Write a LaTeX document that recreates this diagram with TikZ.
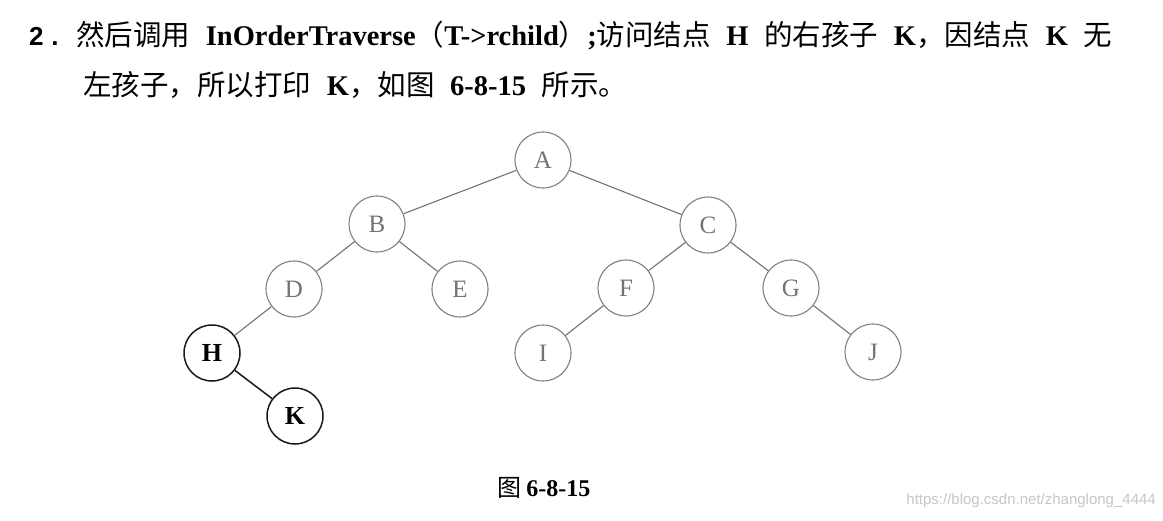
\documentclass[tikz,border=0pt]{standalone}
\usepackage{fontspec}
\setmainfont{Liberation Serif}
\newfontfamily\cjk{Noto Sans CJK SC}
\newfontfamily\wm{Liberation Sans}
\newcommand{\spA}{\hspace{0.55em}}
\newcommand{\spB}{\hspace{0.55em}}
\begin{document}
\begin{tikzpicture}[x=1pt,y=-1pt,
  txt/.style={anchor=west,inner sep=0pt,font=\fontsize{28.5}{30}\selectfont},
  tnode/.style={circle,draw=black!50,line width=1.1pt,minimum size=56pt,inner sep=0pt,
    text=black!55,font=\fontsize{25}{25}\selectfont},
  hnode/.style={circle,draw=black!90,line width=1.5pt,minimum size=56pt,inner sep=0pt,
    text=black,font=\fontsize{26}{26}\selectfont\bfseries},
  tedge/.style={draw=black!55,line width=1.1pt},
  hedge/.style={draw=black!90,line width=1.5pt}]
\useasboundingbox (0,0) rectangle (1163,520);
\fill[white] (0,0) rectangle (1163,520);
\node[txt,font=\wm\bfseries\fontsize{26}{30}\selectfont] (num) at (29,36) {2\hspace{0.3em}.};
\node[txt] (l1) at (76,36) {{\cjk 然后调用}\spA{\bfseries InOrderTraverse}{\cjk （}{\bfseries T->rchild}{\cjk ）}{\bfseries ;}{\cjk 访问结点}\spA{\bfseries H}\spA{\cjk 的右孩子}\spA{\bfseries K}{\cjk ，因结点}\spA{\bfseries K}\spA{\cjk 无}};
\node[txt] (l2) at (83,85) {{\cjk 左孩子，所以打印}\spB{\bfseries K}{\cjk ，如图}\spB{\bfseries 6-8-15}\spB{\cjk 所示。}};
\node[tnode] (A) at (543,160) {A};
\node[tnode] (B) at (377,224) {B};
\node[tnode] (C) at (708,225) {C};
\node[tnode] (D) at (294,289) {D};
\node[tnode] (E) at (460,289) {E};
\node[tnode] (F) at (626,288) {F};
\node[tnode] (G) at (791,288) {G};
\node[hnode] (H) at (212,353) {H};
\node[tnode] (I) at (543,353) {I};
\node[tnode] (J) at (873,352) {J};
\node[hnode] (K) at (295,416) {K};
\draw[tedge] (A) -- (B);
\draw[tedge] (A) -- (C);
\draw[tedge] (B) -- (D);
\draw[tedge] (B) -- (E);
\draw[tedge] (C) -- (F);
\draw[tedge] (C) -- (G);
\draw[tedge] (D) -- (H);
\draw[tedge] (F) -- (I);
\draw[tedge] (G) -- (J);
\draw[hedge] (H) -- (K);
\node[inner sep=0pt,font=\fontsize{24}{24}\selectfont] (cap) at (544,488) {{\cjk 图}\hspace{0.2em}{\bfseries 6-8-15}};
\node[inner sep=0pt,anchor=east,text=black!22,font=\wm\fontsize{15}{15}\selectfont] (wmk) at (1156,501) {https://blog.csdn.net/zhanglong\_4444};
\end{tikzpicture}
\end{document}
